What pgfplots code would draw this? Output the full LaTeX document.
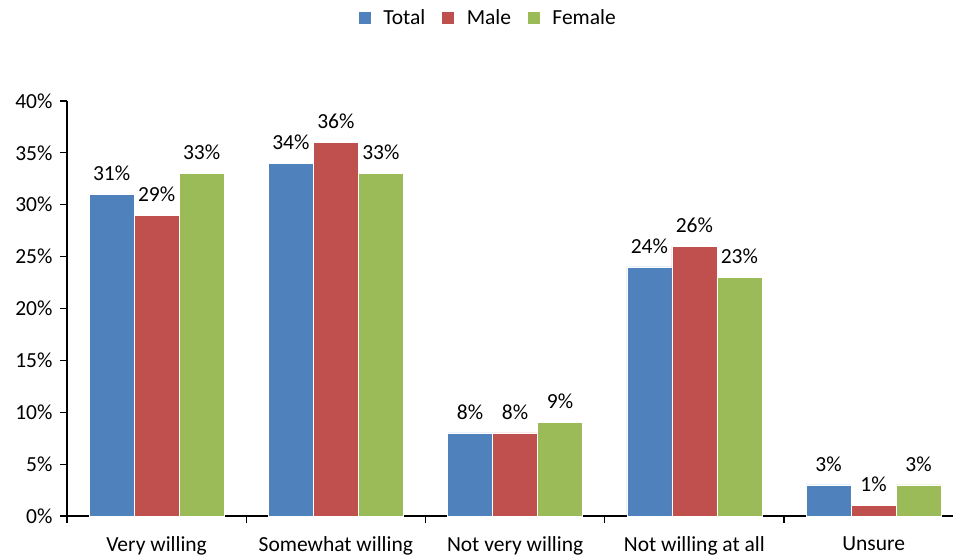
\documentclass[border=0pt]{standalone}
\usepackage{pgfplots}
\pgfplotsset{compat=1.18}
\usepackage{fontspec}
\setmainfont{Carlito}

\definecolor{cTotal}{HTML}{4F81BD}
\definecolor{cMale}{HTML}{C0504D}
\definecolor{cFemale}{HTML}{9BBB59}

\pgfplotstableread{
idx total male female
0 31 29 33
1 34 36 33
2 8 8 9
3 24 26 23
4 3 1 3
}\willing

\begin{document}
\begin{tikzpicture}[font=\fontsize{21.5bp}{25bp}\selectfont]
\useasboundingbox (0,0) rectangle (953bp,556bp);
\begin{axis}[
    at={(67bp,40bp)}, anchor=south west,
    scale only axis,
    width=886bp, height=415bp,
    ybar=0pt, bar width=45bp,
    xmin=-0.5, xmax=4.443,
    ymin=0, ymax=40,
    axis x line*=bottom, axis y line*=left,
    axis line style={line width=1.2bp, black},
    every tick/.style={black, line width=1.2bp},
    tick align=outside,
    major tick length=7bp,
    minor tick length=7bp,
    xtick={0,1,2,3,4},
    xticklabels={Very willing, Somewhat willing, Not very willing, Not willing at all, Unsure},
    major x tick style={draw=none},
    minor xtick={-0.5,0.5,1.5,2.5,3.5,4.5},
    xticklabel style={yshift=-10bp},
    ytick={0,5,...,40},
    yticklabel={\pgfmathprintnumber{\tick}\%},
    yticklabel style={xshift=-4bp},
    /pgf/number format/assume math mode=true,
    nodes near coords={\pgfmathprintnumber{\pgfplotspointmeta}\%},
    nodes near coords style={yshift=10bp},
    legend style={at={(0.475,1.2)}, anchor=center, draw=none,
        legend columns=-1, column sep=10bp,
        /tikz/every even column/.append style={column sep=14bp}},
    legend image code/.code={\fill[#1] (0bp,-6.5bp) rectangle (13bp,6.5bp);},
    clip=false,
]
\addplot[fill=cTotal, draw=white, line width=0.4bp] table[x=idx, y=total] {\willing};
\addplot[fill=cMale, draw=white, line width=0.4bp] table[x=idx, y=male] {\willing};
\addplot[fill=cFemale, draw=white, line width=0.4bp] table[x=idx, y=female] {\willing};
\legend{Total, Male, Female}
\end{axis}
\end{tikzpicture}
\end{document}
